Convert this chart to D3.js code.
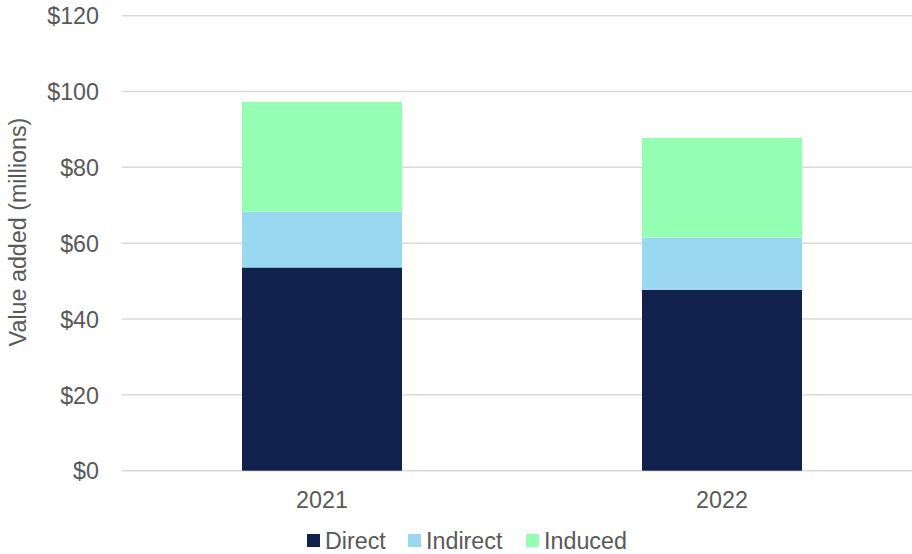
<!DOCTYPE html>
<html><head><meta charset="utf-8">
<script src="https://cdn.jsdelivr.net/npm/d3@7"></script>
<style>body{margin:0;background:#fff}text{font-family:"Liberation Sans",Arial,sans-serif}</style>
</head><body><svg id="c" width="912" height="554"></svg>
<script>
const categories = ["2021", "2022"];
const seriesNames = ["Direct", "Indirect", "Induced"];
const direct = [53.6, 47.7];
const indirect = [14.7, 13.8];
const induced = [29.0, 26.3];
const yTicks = [0, 20, 40, 60, 80, 100, 120];
const colors = ["#10214b", "#99d8f0", "#94ffb3"];
const FS = 23.3;

const svg = d3.select("#c");
const x = d3.scaleBand().domain(categories).range([122, 922]).paddingInner(0.6).paddingOuter(0.3);
const y = d3.scaleLinear().domain([0, 120]).range([470.7, 15.7]);

const rows = categories.map((c, i) => ({cat: c, Direct: direct[i], Indirect: indirect[i], Induced: induced[i]}));
const stack = d3.stack().keys(seriesNames)(rows);

// gridlines
svg.append("g").selectAll("line").data(yTicks).join("line")
  .attr("x1", 122).attr("x2", 912)
  .attr("y1", d => y(d)).attr("y2", d => y(d))
  .attr("stroke", "#d9d9d9").attr("stroke-width", 1.5);

// bars
svg.append("g").selectAll("g").data(stack).join("g")
  .attr("fill", (d, i) => colors[i])
  .selectAll("rect").data(d => d).join("rect")
  .attr("x", d => x(d.data.cat)).attr("width", x.bandwidth())
  .attr("y", d => y(d[1])).attr("height", d => y(d[0]) - y(d[1]));

// y axis
const yAxis = d3.axisLeft(y).tickValues(yTicks).tickFormat(d => "$" + d).tickSize(0).tickPadding(0);
const gy = svg.append("g").attr("transform", "translate(99,0)").call(yAxis);
gy.select(".domain").remove();
gy.attr("font-size", FS);
gy.selectAll("text").attr("font-size", FS).attr("fill", "#595959").attr("dy", "0.35em")
  .style("font-family", '"Liberation Sans",Arial,sans-serif');

// x axis
const xAxis = d3.axisBottom(x).tickSize(0).tickPadding(0);
const gx = svg.append("g").attr("transform", "translate(0,490)").call(xAxis);
gx.select(".domain").remove();
gx.attr("font-size", FS);
gx.selectAll("text").attr("font-size", FS).attr("fill", "#595959").attr("dy", "0.78em")
  .style("font-family", '"Liberation Sans",Arial,sans-serif');

// y label
svg.append("text").attr("transform", "rotate(-90)")
  .attr("x", -232).attr("y", 26).attr("text-anchor", "middle")
  .attr("font-size", FS).attr("fill", "#595959").text("Value added (millions)");

// legend
const legX = [307, 408, 526];
const leg = svg.append("g").selectAll("g").data(seriesNames).join("g")
  .attr("transform", (d, i) => `translate(${legX[i]},534)`);
leg.append("rect").attr("width", 13).attr("height", 13).attr("fill", (d, i) => colors[i]);
leg.append("text").attr("x", 18).attr("y", 14.8).attr("font-size", FS).attr("fill", "#595959").text(d => d);
</script></body></html>
